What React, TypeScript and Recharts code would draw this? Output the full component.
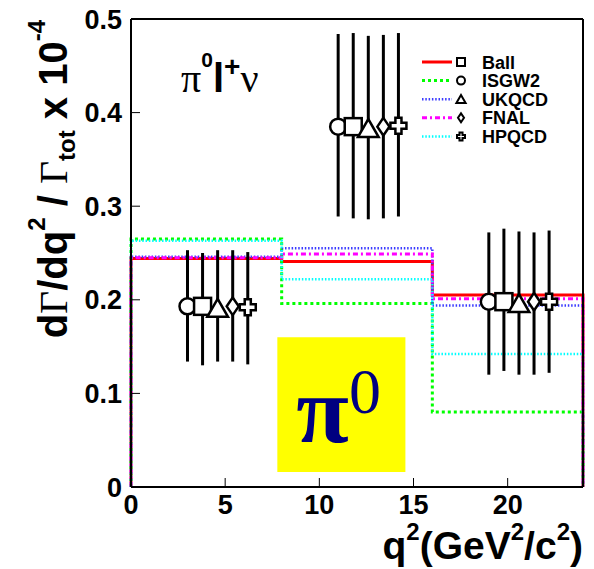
import React from 'react';
import { ComposedChart, Line, Scatter, ErrorBar, XAxis, YAxis, ReferenceArea, Customized } from 'recharts';

// q^2 bin edges (GeV^2/c^2)
const binEdges = [0, 8, 16, 24];

// model predictions per bin (x 10^-4)
const ballRate = [0.244, 0.241, 0.205];
const isgw2Rate = [0.265, 0.196, 0.08];
const ukqcdRate = [0.246, 0.255, 0.194];
const fnalRate = [0.245, 0.249, 0.201];
const hpqcdRate = [0.263, 0.222, 0.142];

// measured points, one set per form-factor model (shifted in q^2 for visibility)
const isgw2Q2 = [3.0, 11.0, 19.0];
const isgw2Meas = [0.193, 0.385, 0.198];
const isgw2Lo = [0.134, 0.289, 0.12];
const isgw2Hi = [0.253, 0.484, 0.272];

const ballQ2 = [3.8, 11.8, 19.8];
const ballMeas = [0.193, 0.385, 0.198];
const ballLo = [0.13, 0.287, 0.124];
const ballHi = [0.25, 0.485, 0.276];

const ukqcdQ2 = [4.6, 12.6, 20.6];
const ukqcdMeas = [0.191, 0.383, 0.196];
const ukqcdLo = [0.134, 0.286, 0.12];
const ukqcdHi = [0.253, 0.482, 0.273];

const fnalQ2 = [5.4, 13.4, 21.4];
const fnalMeas = [0.193, 0.385, 0.198];
const fnalLo = [0.134, 0.287, 0.12];
const fnalHi = [0.253, 0.483, 0.272];

const hpqcdQ2 = [6.2, 14.2, 22.2];
const hpqcdMeas = [0.192, 0.386, 0.198];
const hpqcdLo = [0.131, 0.289, 0.122];
const hpqcdHi = [0.251, 0.485, 0.274];

const xTicks = [0, 5, 10, 15, 20];
const yTicks = [0, 0.1, 0.2, 0.3, 0.4, 0.5];

const SANS = '"Liberation Sans", Arial, Helvetica, sans-serif';
const SERIF = '"Liberation Serif", "Times New Roman", serif';

// step histogram incl. the drop to zero at both ends
const histo = (vals: number[]) => {
  const pts = [{ q2: binEdges[0], v: 0 }];
  vals.forEach((v, i) => pts.push({ q2: binEdges[i], v }));
  pts.push({ q2: binEdges[binEdges.length - 1], v: vals[vals.length - 1] });
  pts.push({ q2: binEdges[binEdges.length - 1], v: 0 });
  return pts;
};

const points = (q2: number[], meas: number[], lo: number[], hi: number[]) =>
  q2.map((x, i) => ({ q2: x, v: meas[i], err: [meas[i] - lo[i], hi[i] - meas[i]] }));

type Kind = 'square' | 'circle' | 'triangle' | 'diamond' | 'cross';

const marker = (kind: Kind, cx: number, cy: number, s: number, sw: number) => {
  const common = { fill: '#fff', stroke: '#000', strokeWidth: sw };
  switch (kind) {
    case 'circle':
      return <circle cx={cx} cy={cy} r={s} {...common} />;
    case 'square':
      return <rect x={cx - s} y={cy - s} width={2 * s} height={2 * s} {...common} />;
    case 'triangle':
      return (
        <polygon
          points={`${cx},${cy - s * 1.05} ${cx - s * 1.15},${cy + s * 0.95} ${cx + s * 1.15},${cy + s * 0.95}`}
          {...common}
        />
      );
    case 'diamond':
      return (
        <polygon
          points={`${cx},${cy - s * 1.1} ${cx + s * 0.75},${cy} ${cx},${cy + s * 1.1} ${cx - s * 0.75},${cy}`}
          {...common}
        />
      );
    default: {
      const a = s * 0.38;
      return (
        <polygon
          points={[
            [cx - a, cy - s], [cx + a, cy - s], [cx + a, cy - a], [cx + s, cy - a],
            [cx + s, cy + a], [cx + a, cy + a], [cx + a, cy + s], [cx - a, cy + s],
            [cx - a, cy + a], [cx - s, cy + a], [cx - s, cy - a], [cx - a, cy - a],
          ].map((p) => p.join(',')).join(' ')}
          {...common}
        />
      );
    }
  }
};

const models = [
  { name: 'Ball', kind: 'square' as Kind, color: '#ff0000', width: 3, dash: undefined, size: 8.5 },
  { name: 'ISGW2', kind: 'circle' as Kind, color: '#00ff00', width: 3, dash: '3 3', size: 8 },
  { name: 'UKQCD', kind: 'triangle' as Kind, color: '#3b3bff', width: 2.5, dash: '1.5 1.8', size: 9 },
  { name: 'FNAL', kind: 'diamond' as Kind, color: '#ff00ff', width: 3, dash: '5 3 2 3', size: 8 },
  { name: 'HPQCD', kind: 'cross' as Kind, color: '#00ffff', width: 2.5, dash: '1.5 1.8', size: 8 },
];

const rates = [ballRate, isgw2Rate, ukqcdRate, fnalRate, hpqcdRate];
const measured = [
  points(ballQ2, ballMeas, ballLo, ballHi),
  points(isgw2Q2, isgw2Meas, isgw2Lo, isgw2Hi),
  points(ukqcdQ2, ukqcdMeas, ukqcdLo, ukqcdHi),
  points(fnalQ2, fnalMeas, fnalLo, fnalHi),
  points(hpqcdQ2, hpqcdMeas, hpqcdLo, hpqcdHi),
];

const Annotations = () => (
  <g>
    {/* legend */}
    {models.map((m, i) => {
      const y = 62 + i * 18.6;
      return (
        <g key={m.name}>
          <line x1={422} x2={452} y1={y} y2={y} stroke={m.color} strokeWidth={m.width} strokeDasharray={m.dash} />
          {marker(m.kind, 461, y, 4, 2)}
          <text x={482} y={y + 6.5} fontFamily={SANS} fontWeight="bold" fontSize={18} fill="#000">
            {m.name}
          </text>
        </g>
      );
    })}

    {/* decay label */}
    <text x={181} y={92} fill="#000">
      <tspan fontFamily={SERIF} fontSize={40}>π</tspan>
      <tspan fontFamily={SANS} fontWeight="bold" fontSize={21} dy={-25}>0</tspan>
      <tspan fontFamily={SANS} fontWeight="bold" fontSize={40} dy={25}>l</tspan>
      <tspan fontFamily={SANS} fontWeight="bold" fontSize={28} dy={-16}>+</tspan>
      <tspan fontFamily={SERIF} fontSize={40} dy={16}>ν</tspan>
    </text>

    {/* x title */}
    <text x={583} y={559} textAnchor="end" fontFamily={SANS} fontWeight="bold" fontSize={39} fill="#000">
      q<tspan fontSize={24} dy={-19}>2</tspan>
      <tspan dy={19}>(GeV</tspan>
      <tspan fontSize={24} dy={-19}>2</tspan>
      <tspan dy={19}>/c</tspan>
      <tspan fontSize={24} dy={-19}>2</tspan>
      <tspan dy={19}>)</tspan>
    </text>

    {/* y title */}
    <text
      transform="translate(67, 20) rotate(-90)"
      textAnchor="end"
      fontFamily={SANS}
      fontWeight="bold"
      fontSize={40}
      fill="#000"
    >
      d<tspan fontFamily={SERIF} fontWeight="normal">Γ</tspan>
      <tspan>/dq</tspan>
      <tspan fontSize={24} dy={-22}>2</tspan>
      <tspan dy={22}> / </tspan>
      <tspan fontFamily={SERIF} fontWeight="normal">Γ</tspan>
      <tspan fontSize={24} dy={8}>tot</tspan>
      <tspan dy={-8}> x 10</tspan>
      <tspan fontSize={24} dy={-22}>-4</tspan>
    </text>
  </g>
);

// big pi0 tag drawn inside the yellow box
const PiTag = (props: any) => {
  const vb = props.viewBox || {};
  const x = (vb.x ?? 0) + 19;
  const y = (vb.y ?? 0) + 105;
  return (
    <text x={x} y={y} fill="#000080" fontFamily={SERIF}>
      <tspan fontSize={96} fontWeight="bold">π</tspan>
      <tspan fontSize={64} dy={-29}>0</tspan>
    </text>
  );
};

const tickStyle = { fill: '#000', fontSize: 27, fontWeight: 'bold', fontFamily: SANS };

export default function App() {
  return (
    <div style={{ position: 'absolute', left: 0, top: 0, width: 594, height: 569, background: '#fff' }}>
      <ComposedChart width={594} height={569} margin={{ top: 0, right: 0, bottom: 0, left: 0 }}>
        <XAxis
          xAxisId="b"
          dataKey="q2"
          type="number"
          domain={[0, 24]}
          ticks={xTicks}
          interval={0}
          height={82}
          axisLine={{ stroke: '#000', strokeWidth: 2 }}
          tickLine={{ stroke: '#000', strokeWidth: 1 }}
          tickSize={-9}
          tickMargin={17}
          tick={tickStyle}
        />
        <XAxis
          xAxisId="t"
          orientation="top"
          dataKey="q2"
          type="number"
          domain={[0, 24]}
          ticks={xTicks}
          interval={0}
          height={19}
          axisLine={{ stroke: '#000', strokeWidth: 2 }}
          tickLine={{ stroke: '#000', strokeWidth: 1 }}
          tickSize={-7}
          tick={false}
        />
        <YAxis
          yAxisId="l"
          dataKey="v"
          type="number"
          domain={[0, 0.5]}
          ticks={yTicks}
          interval={0}
          width={131}
          axisLine={{ stroke: '#000', strokeWidth: 2 }}
          tickLine={{ stroke: '#000', strokeWidth: 1 }}
          tickSize={-9}
          tickMargin={18}
          tick={tickStyle}
          tickFormatter={(v: number) => (v === 0 ? '0' : v.toFixed(1))}
        />
        <YAxis
          yAxisId="r"
          orientation="right"
          dataKey="v"
          type="number"
          domain={[0, 0.5]}
          ticks={yTicks}
          interval={0}
          width={11}
          axisLine={{ stroke: '#000', strokeWidth: 2 }}
          tickLine={{ stroke: '#000', strokeWidth: 1 }}
          tickSize={-8}
          tick={false}
        />

        <ReferenceArea
          xAxisId="b"
          yAxisId="l"
          x1={7.77}
          x2={14.57}
          y1={0.016}
          y2={0.16}
          fill="#ffff00"
          fillOpacity={1}
          stroke="none"
          label={<PiTag />}
        />

        {models.map((m, i) => (
          <Line
            key={`h-${m.name}`}
            xAxisId="b"
            yAxisId="l"
            data={histo(rates[i])}
            dataKey="v"
            type="stepAfter"
            stroke={m.color}
            strokeWidth={m.width}
            strokeDasharray={m.dash}
            dot={false}
            activeDot={false}
            isAnimationActive={false}
          />
        ))}

        {[1, 0, 2, 3, 4].map((i) => {
          const m = models[i];
          return (
            <Scatter
              key={`p-${m.name}`}
              xAxisId="b"
              yAxisId="l"
              data={measured[i]}
              dataKey="v"
              isAnimationActive={false}
              shape={(p: any) => marker(m.kind, p.cx, p.cy, m.size, 2.5)}
            >
              <ErrorBar dataKey="err" direction="y" width={0} stroke="#000" strokeWidth={3} />
            </Scatter>
          );
        })}

        <Customized component={Annotations} />
      </ComposedChart>
    </div>
  );
}
